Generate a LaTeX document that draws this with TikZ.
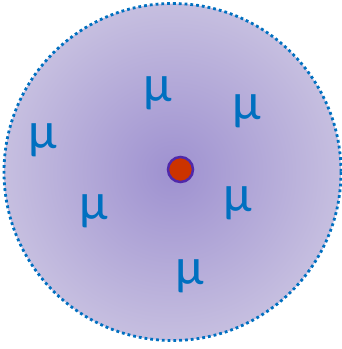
\documentclass[tikz,border=0pt]{standalone}
\usepackage{fontspec}
\setmainfont{Carlito}
\usepackage{tikz}

\definecolor{mublue}{RGB}{0,112,192}
\definecolor{cloudin}{RGB}{158,145,208}
\definecolor{cloudout}{RGB}{214,209,230}
\definecolor{corefill}{RGB}{204,51,0}
\definecolor{coredraw}{RGB}{80,40,170}

\pgfdeclareradialshading{cloud}{\pgfpointorigin}{%
    color(0bp)=(cloudin); color(35bp)=(cloudout); color(50bp)=(cloudout)}

\begin{document}
\begin{tikzpicture}[
    x=1pt,
    y=-1pt,
    muon/.style={
        text=mublue,
        inner sep=0pt,
        font=\fontsize{52}{52}\selectfont,
    },
    core/.style={
        circle,
        draw=coredraw,
        line width=2.5pt,
        fill=corefill,
        minimum size=25pt,
        inner sep=0pt,
    },
]
\useasboundingbox (0,0) rectangle (341,349);

% --- Cloud ---
\shade[shading=cloud] (172.5,172) circle (168.5);
\draw[mublue, line width=2.8pt, dash pattern=on 2.8pt off 3pt]
    (172.5,172) circle (168.5);

% --- Core ---
\node[core] (core) at (180.5,169.5) {};

% --- Labels ---
\node[muon] (mu1) at (158,93)  {μ};
\node[muon] (mu2) at (247,111) {μ};
\node[muon] (mu3) at (43,140)  {μ};
\node[muon] (mu4) at (94,211)  {μ};
\node[muon] (mu5) at (238,203) {μ};
\node[muon] (mu6) at (190,276) {μ};

\end{tikzpicture}
\end{document}
